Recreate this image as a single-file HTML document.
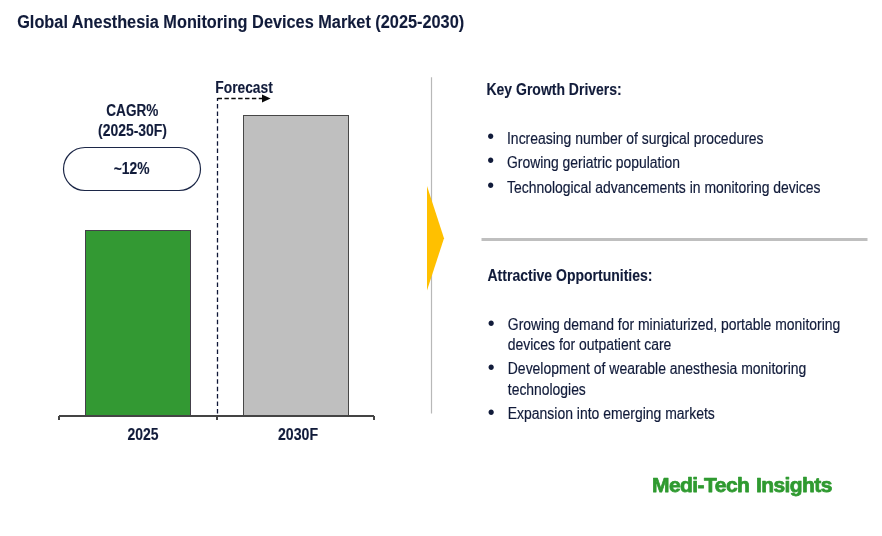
<!DOCTYPE html>
<html lang="en">
<head>
<meta charset="utf-8">
<title>Global Anesthesia Monitoring Devices Market (2025-2030)</title>
<style>
  html,body{margin:0;padding:0;background:#fff;}
  body{width:882px;height:536px;overflow:hidden;}
  svg{display:block;}
  text{font-family:"Liberation Sans",Arial,sans-serif;fill:#111b3a;font-size:16px;}
  .b{font-weight:bold;stroke:#111b3a;stroke-width:.12px;}
  .r{stroke:#111b3a;stroke-width:.18px;}
  .bu{font-size:19.5px;}
</style>
</head>
<body>
<svg width="882" height="536" viewBox="0 0 882 536">
  <rect width="882" height="536" fill="#ffffff"/>

  <!-- title -->
  <text class="b" x="17.2" y="27.5" style="font-size:19.1px" textLength="447" lengthAdjust="spacingAndGlyphs">Global Anesthesia Monitoring Devices Market (2025-2030)</text>

  <!-- chart -->
  <rect x="85.5" y="230.5" width="105" height="185" fill="#339933" stroke="#44404a" stroke-width="1"/>
  <rect x="243.5" y="115.5" width="105" height="300" fill="#bfbfbf" stroke="#474747" stroke-width="1"/>
  <g fill="#444444">
    <rect x="59" y="415" width="315" height="2"/>
    <rect x="58" y="416" width="2" height="4"/>
    <rect x="216" y="416" width="2" height="4"/>
    <rect x="373" y="416" width="2" height="4"/>
  </g>
  <path d="M217.5 413.5V98" fill="none" stroke="#0e1636" stroke-width="1.3" stroke-dasharray="4.5 2.94"/>
  <path d="M217.6 98.5H262" fill="none" stroke="#0a0a0a" stroke-width="1.3" stroke-dasharray="4.4 2.46"/>
  <path d="M262 94.4L270.6 98.5L262 102.6Z" fill="#0a0a0a"/>

  <text class="b" x="215.3" y="92.6" textLength="57.5" lengthAdjust="spacingAndGlyphs">Forecast</text>
  <text class="b" x="106.3" y="115.6" textLength="52" lengthAdjust="spacingAndGlyphs">CAGR%</text>
  <text class="b" x="98" y="136" textLength="69" lengthAdjust="spacingAndGlyphs">(2025-30F)</text>
  <rect x="63.5" y="147.5" width="137" height="43" rx="21.5" fill="#fff" stroke="#1c2747" stroke-width="1.2"/>
  <text class="b" x="113.8" y="173.8" textLength="35.7" lengthAdjust="spacingAndGlyphs">~12%</text>

  <text class="b" x="127.5" y="440" textLength="31" lengthAdjust="spacingAndGlyphs">2025</text>
  <text class="b" x="278" y="440" textLength="40" lengthAdjust="spacingAndGlyphs">2030F</text>

  <!-- divider + arrow -->
  <line x1="431.5" y1="77.3" x2="431.5" y2="413.5" stroke="#b8b8b8" stroke-width="1.2"/>
  <path d="M427 186L444 238.3L427 290.6Z" fill="#ffc000"/>

  <!-- right column -->
  <text class="b" x="486.5" y="95" textLength="135.2" lengthAdjust="spacingAndGlyphs">Key Growth Drivers:</text>
  <text class="bu" x="487.3" y="143.25">•</text>
  <text class="r" x="507" y="144" textLength="256.5" lengthAdjust="spacingAndGlyphs">Increasing number of surgical procedures</text>
  <text class="bu" x="487.3" y="167.25">•</text>
  <text class="r" x="507" y="168" textLength="173" lengthAdjust="spacingAndGlyphs">Growing geriatric population</text>
  <text class="bu" x="487.3" y="192.25">•</text>
  <text class="r" x="507" y="193" textLength="313.5" lengthAdjust="spacingAndGlyphs">Technological advancements in monitoring devices</text>

  <line x1="481.5" y1="239.5" x2="867.5" y2="239.5" stroke="#bfbfbf" stroke-width="3"/>

  <text class="b" x="487.5" y="281" textLength="165" lengthAdjust="spacingAndGlyphs">Attractive Opportunities:</text>
  <text class="bu" x="487.8" y="329.95">•</text>
  <text class="r" x="507.8" y="330" textLength="332.5" lengthAdjust="spacingAndGlyphs">Growing demand for miniaturized, portable monitoring</text>
  <text class="r" x="507.8" y="350" textLength="163.5" lengthAdjust="spacingAndGlyphs">devices for outpatient care</text>
  <text class="bu" x="487.8" y="373.65">•</text>
  <text class="r" x="507.8" y="374" textLength="298.5" lengthAdjust="spacingAndGlyphs">Development of wearable anesthesia monitoring</text>
  <text class="r" x="507.8" y="395" textLength="78" lengthAdjust="spacingAndGlyphs">technologies</text>
  <text class="bu" x="487.8" y="418.5">•</text>
  <text class="r" x="507.8" y="419" textLength="207" lengthAdjust="spacingAndGlyphs">Expansion into emerging markets</text>

  <!-- logo -->
  <text x="652" y="492" textLength="180.5" lengthAdjust="spacing" style="font-size:21px;word-spacing:1.3px;font-weight:bold;fill:#2f9a30;stroke:#2f9a30;stroke-width:.75px;stroke-linejoin:round">Medi-Tech Insights</text>
</svg>
</body>
</html>
